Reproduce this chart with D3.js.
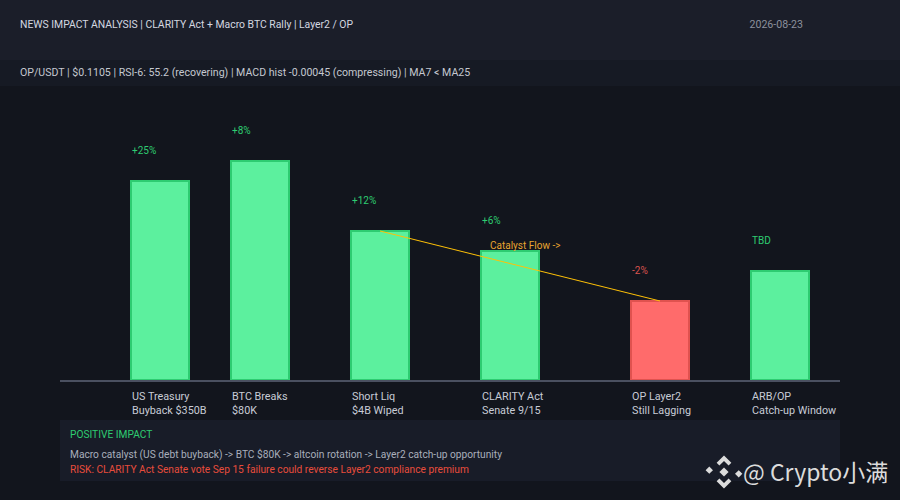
<!DOCTYPE html>
<html><head><meta charset="utf-8">
<script src="https://cdn.jsdelivr.net/npm/d3@7"></script>
<style>
html,body{margin:0;padding:0;background:#12151d;}
svg{display:block;font-family:Roboto,"Liberation Sans",sans-serif;font-variant-ligatures:none;font-feature-settings:"calt" 0,"liga" 0;}
</style></head>
<body>
<svg id="c" width="900" height="500"></svg>
<script>
const titleText = "NEWS IMPACT ANALYSIS | CLARITY Act + Macro BTC Rally | Layer2 / OP";
const dateText = "2026-08-23";
const tickerText = "OP/USDT | $0.1105 | RSI-6: 55.2 (recovering) | MACD hist -0.00045 (compressing) | MA7 < MA25";
const categories = [
  ["US Treasury", "Buyback $350B"],
  ["BTC Breaks", "$80K"],
  ["Short Liq", "$4B Wiped"],
  ["CLARITY Act", "Senate 9/15"],
  ["OP Layer2", "Still Lagging"],
  ["ARB/OP", "Catch-up Window"]
];
const timeline = [0, 10, 22, 35, 50, 62];
const impactScore = [8.0, 8.8, 6.0, 5.2, 3.2, 4.4];
const changeLabels = ["+25%", "+8%", "+12%", "+6%", "-2%", "TBD"];
const isNegative = [false, false, false, false, true, false];
const flowFrom = 2, flowTo = 4;
const flowLabel = "Catalyst Flow ->";
const boxTitle = "POSITIVE IMPACT";
const boxBody = "Macro catalyst (US debt buyback) -> BTC $80K -> altcoin rotation -> Layer2 catch-up opportunity";
const boxRisk = "RISK: CLARITY Act Senate vote Sep 15 failure could reverse Layer2 compliance premium";

const svg = d3.select("#c");
const W = 900, H = 500;
const barW = 60;

svg.append("rect").attr("width", W).attr("height", H).attr("fill", "#12151d");
svg.append("rect").attr("width", W).attr("height", 60).attr("fill", "#1b1e29");
svg.append("rect").attr("y", 60).attr("width", W).attr("height", 26).attr("fill", "#161a24");

svg.append("text").attr("x", 20).attr("y", 28).attr("font-size", 10.4).attr("fill", "#d4d8e0").text(titleText);
svg.append("text").attr("x", 803).attr("y", 28).attr("text-anchor", "end").attr("font-size", 10.6).attr("fill", "#8b909c").text(dateText);
svg.append("text").attr("x", 20).attr("y", 76).attr("font-size", 10.6).attr("fill", "#c4c8d0").text(tickerText);

const x = d3.scaleLinear().domain([0, 62]).range([130, 750]);
const y = d3.scaleLinear().domain([0, 10]).range([380, 130]);

const g = svg.append("g");
g.selectAll("rect.bar").data(impactScore).join("rect")
  .attr("class", "bar")
  .attr("x", (d, i) => x(timeline[i]) + 1)
  .attr("y", d => y(d) + 1)
  .attr("width", barW - 2)
  .attr("height", d => y(0) - y(d) - 1)
  .attr("fill", (d, i) => isNegative[i] ? "#ff6b6b" : "#5cf09e")
  .attr("stroke", (d, i) => isNegative[i] ? "#e0524f" : "#2ecc71")
  .attr("stroke-width", 2);

g.append("line").attr("x1", 60).attr("x2", 840).attr("y1", y(0) + 1).attr("y2", y(0) + 1)
  .attr("stroke", "#4a5060").attr("stroke-width", 2);

g.selectAll("text.chg").data(changeLabels).join("text")
  .attr("class", "chg")
  .attr("x", (d, i) => x(timeline[i]) + 2)
  .attr("y", (d, i) => y(impactScore[i]) - 26)
  .attr("font-size", 10)
  .attr("fill", (d, i) => isNegative[i] ? "#d9534f" : "#2ecc71")
  .text(d => d);

categories.forEach((c, i) => {
  c.forEach((line, j) => {
    g.append("text").attr("x", x(timeline[i]) + 2).attr("y", 400 + j * 14)
      .attr("font-size", 10.8).attr("fill", "#c8ccd6").text(line);
  });
});

g.append("line")
  .attr("x1", x(timeline[flowFrom]) + barW / 2).attr("y1", y(impactScore[flowFrom]) + 1)
  .attr("x2", x(timeline[flowTo]) + barW / 2).attr("y2", y(impactScore[flowTo]) + 1)
  .attr("stroke", "#ffc107").attr("stroke-width", 1);
g.append("text").attr("x", x(timeline[3]) + 10).attr("y", y(impactScore[3]) - 1)
  .attr("font-size", 10).attr("fill", "#e8a530").text(flowLabel);

svg.append("rect").attr("x", 60).attr("y", 420).attr("width", 780).attr("height", 61).attr("fill", "#181c28");
svg.append("text").attr("x", 70).attr("y", 438).attr("font-size", 10.2).attr("fill", "#2ecc71").text(boxTitle);
svg.append("text").attr("x", 70).attr("y", 458).attr("font-size", 10.2).attr("fill", "#a9afbc").text(boxBody);
svg.append("text").attr("x", 70).attr("y", 473).attr("font-size", 10.2).attr("fill", "#e74c3c").text(boxRisk);

// watermark
const wm = svg.append("g").attr("fill", "#dcdcdc");
const lg = wm.append("g").attr("transform", "translate(724,472) rotate(45) scale(1.3)");
lg.append("rect").attr("x", -2.5).attr("y", -2.5).attr("width", 5).attr("height", 5);
lg.append("path").attr("d", "M-9,-9 h8 v3 h-5 v5 h-3 z M9,9 h-8 v-3 h5 v-5 h3 z");
lg.append("rect").attr("x", -11).attr("y", 5).attr("width", 4).attr("height", 4);
lg.append("rect").attr("x", 7).attr("y", -9).attr("width", 4).attr("height", 4);
wm.append("text").attr("x", 743).attr("y", 481).attr("font-size", 23)
  .attr("font-family", "'Noto Sans CJK SC','Noto Sans',sans-serif").attr("fill", "#dcdcdc").text("@ Crypto小满");
</script>
</body></html>
